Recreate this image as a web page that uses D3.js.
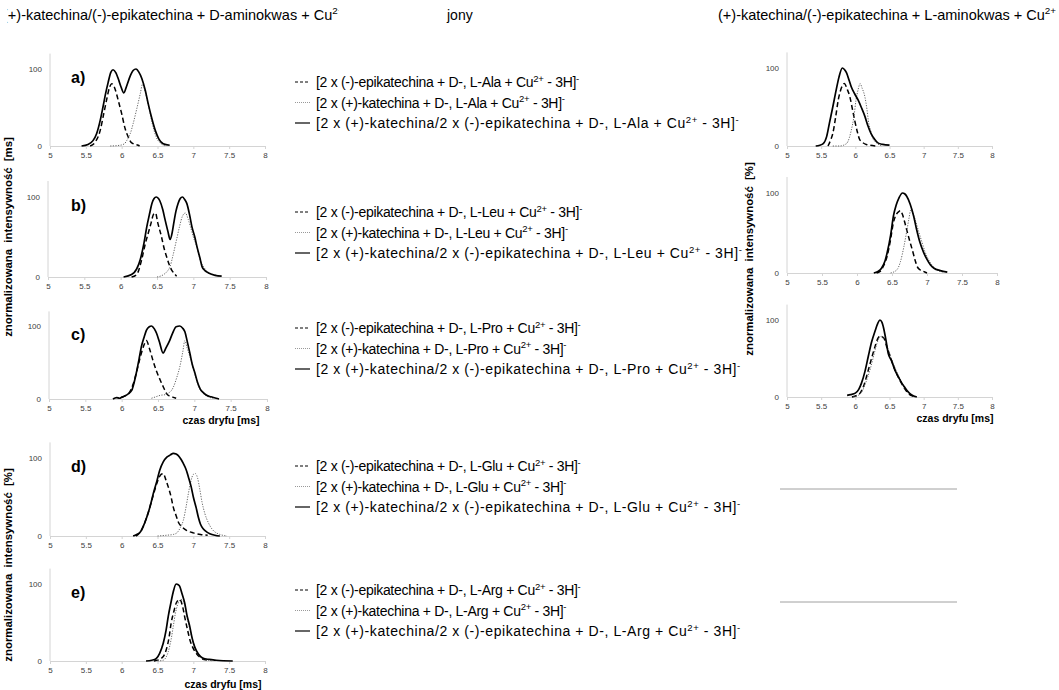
<!DOCTYPE html>
<html>
<head>
<meta charset="utf-8">
<script src="https://cdn.jsdelivr.net/npm/d3@7"></script>
<style>
  body { margin: 0; background: #fff; }
  text { font-family: "Liberation Sans", Arial, sans-serif; }
</style>
</head>
<body>
<svg width="1059" height="690"></svg>
<script>
  var xTicks = [5, 5.5, 6, 6.5, 7, 7.5, 8];
  var yTicks = [0, 100];
  var aminoAcids = ["Ala", "Leu", "Pro", "Glu", "Arg"];
  var panelLabels = ["a)", "b)", "c)", "d)", "e)"];

  // D-, L-aminokwas (left column): [czas dryfu, intensywność]
  var epiAla = [[5.56,0],[5.63,5],[5.7,20],[5.75,42],[5.79,60],[5.83,76],[5.86,81],[5.9,76],[5.95,60],[6.0,42],[6.05,22],[6.09,12],[6.13,5],[6.16,3],[6.23,1],[6.25,0]];
  var katAla = [[5.84,0],[5.98,1],[6.04,3],[6.07,7],[6.12,16],[6.16,29],[6.21,48],[6.26,68],[6.29,80],[6.33,70],[6.38,50],[6.43,28],[6.48,12],[6.55,3],[6.62,0]];
  var mixAla = [[5.44,0],[5.53,2],[5.6,7],[5.65,16],[5.7,33],[5.74,51],[5.78,70],[5.81,82],[5.85,96],[5.88,99],[5.92,95],[5.95,88],[5.99,77],[6.03,69],[6.07,78],[6.12,91],[6.16,98],[6.2,100],[6.24,96],[6.28,88],[6.33,72],[6.37,55],[6.42,36],[6.47,20],[6.52,9],[6.58,3],[6.67,1]];

  var epiLeu = [[6.15,0],[6.22,3],[6.29,22],[6.34,42],[6.38,55],[6.42,68],[6.45,78],[6.48,80],[6.51,68],[6.56,51],[6.6,35],[6.63,26],[6.67,15],[6.7,9],[6.74,4],[6.77,1]];
  var katLeu = [[6.5,0],[6.59,3],[6.64,7],[6.68,13],[6.72,27],[6.77,47],[6.81,63],[6.85,76],[6.89,80],[6.93,72],[6.96,63],[7.0,50],[7.05,37],[7.1,20],[7.14,13],[7.2,6],[7.28,3],[7.37,1]];
  var mixLeu = [[6.04,0],[6.15,3],[6.22,10],[6.27,22],[6.32,42],[6.36,63],[6.4,80],[6.43,92],[6.46,98],[6.49,100],[6.52,98],[6.54,95],[6.58,84],[6.61,72],[6.65,57],[6.68,47],[6.71,56],[6.73,67],[6.76,82],[6.79,92],[6.82,98],[6.85,100],[6.88,97],[6.91,92],[6.95,77],[6.98,63],[7.02,50],[7.05,38],[7.09,24],[7.12,13],[7.16,8],[7.21,5],[7.3,2],[7.39,1]];

  var epiPro = [[6.0,2],[6.06,5],[6.1,8],[6.16,21],[6.2,35],[6.25,55],[6.3,72],[6.34,80],[6.38,70],[6.43,53],[6.48,38],[6.53,26],[6.58,15],[6.62,7],[6.66,4],[6.69,3],[6.75,1]];
  var katPro = [[6.41,1],[6.47,3],[6.53,5],[6.6,6],[6.64,8],[6.68,11],[6.71,16],[6.76,30],[6.8,44],[6.84,64],[6.87,80],[6.9,70],[6.94,58],[6.98,44],[7.01,33],[7.05,20],[7.08,13],[7.13,7],[7.17,4],[7.26,1]];
  var mixPro = [[5.88,0],[5.93,2],[5.97,1],[6.01,3],[6.04,4],[6.09,7],[6.14,12],[6.17,22],[6.2,35],[6.24,55],[6.27,71],[6.31,85],[6.34,94],[6.38,99],[6.41,100],[6.45,96],[6.48,90],[6.52,78],[6.57,63],[6.61,70],[6.66,80],[6.7,90],[6.75,99],[6.8,100],[6.84,97],[6.87,92],[6.9,80],[6.94,62],[6.97,48],[7.01,35],[7.04,24],[7.08,14],[7.12,9],[7.17,5],[7.23,3],[7.3,1],[7.34,0]];

  var epiGlu = [[6.2,0],[6.26,5],[6.35,24],[6.44,52],[6.5,70],[6.55,79],[6.58,80],[6.62,71],[6.65,63],[6.69,50],[6.72,37],[6.76,26],[6.79,18],[6.85,11],[6.91,7],[7.0,4],[7.1,2],[7.2,1]];
  var katGlu = [[6.5,0],[6.63,1],[6.72,2],[6.77,4],[6.82,11],[6.86,20],[6.9,38],[6.93,54],[6.96,68],[7.0,79],[7.03,80],[7.06,74],[7.09,60],[7.12,44],[7.16,29],[7.21,17],[7.26,9],[7.32,4],[7.37,2],[7.47,0]];
  var mixGlu = [[6.16,0],[6.21,2],[6.26,5],[6.3,12],[6.35,24],[6.4,39],[6.44,54],[6.49,70],[6.53,84],[6.58,95],[6.63,101],[6.68,104],[6.72,106],[6.76,105],[6.79,103],[6.83,98],[6.86,93],[6.9,85],[6.93,76],[6.97,63],[7.0,50],[7.04,36],[7.07,24],[7.1,15],[7.14,9],[7.19,5],[7.23,3],[7.3,1],[7.37,0]];

  var epiArg = [[6.45,0],[6.55,3],[6.62,14],[6.66,30],[6.69,49],[6.73,65],[6.76,75],[6.81,80],[6.85,71],[6.88,57],[6.92,40],[6.96,25],[6.99,18],[7.04,10],[7.09,5],[7.15,2],[7.23,1]];
  var katArg = [[6.5,0],[6.58,1],[6.62,5],[6.65,12],[6.69,28],[6.72,45],[6.75,62],[6.78,73],[6.83,80],[6.88,73],[6.91,58],[6.95,42],[6.99,27],[7.02,18],[7.06,9],[7.11,4],[7.18,2],[7.27,0]];
  var mixArg = [[6.34,0],[6.42,1],[6.48,3],[6.53,10],[6.58,23],[6.62,40],[6.65,58],[6.69,77],[6.72,90],[6.76,100],[6.79,99],[6.81,97],[6.84,88],[6.88,75],[6.91,60],[6.95,45],[6.98,31],[7.02,18],[7.07,9],[7.13,4],[7.22,2],[7.32,1],[7.55,0]];

  // L-aminokwas (right column)
  var epiR1 = [[5.6,0],[5.64,8],[5.67,16],[5.71,36],[5.75,59],[5.79,73],[5.84,80],[5.88,73],[5.92,63],[5.96,46],[5.99,33],[6.03,18],[6.06,9],[6.1,5],[6.16,2],[6.31,0]];
  var katR1 = [[5.67,0],[5.77,0],[5.87,3],[5.91,10],[5.94,20],[5.98,38],[6.01,59],[6.04,72],[6.07,80],[6.1,74],[6.14,63],[6.17,47],[6.19,33],[6.23,18],[6.26,9],[6.31,4],[6.36,1],[6.4,0]];
  var mixR1 = [[5.42,0],[5.48,1],[5.53,3],[5.58,12],[5.62,29],[5.67,50],[5.72,72],[5.76,88],[5.81,100],[5.84,98],[5.87,94],[5.91,84],[5.94,76],[5.99,67],[6.04,59],[6.09,49],[6.14,38],[6.18,27],[6.23,16],[6.28,9],[6.33,4],[6.4,2],[6.5,1]];

  var epiR2 = [[6.28,0],[6.33,2],[6.38,9],[6.43,21],[6.48,42],[6.52,63],[6.56,73],[6.6,77],[6.62,78],[6.65,73],[6.68,64],[6.71,54],[6.75,41],[6.79,29],[6.83,16],[6.86,8],[6.9,4],[6.95,2],[7.0,0]];
  var katR2 = [[6.48,0],[6.57,4],[6.62,14],[6.67,33],[6.71,52],[6.74,67],[6.77,79],[6.8,74],[6.83,67],[6.88,52],[6.93,38],[6.97,27],[7.02,17],[7.08,9],[7.14,4],[7.24,1]];
  var mixR2 = [[6.24,0],[6.3,2],[6.35,6],[6.4,15],[6.43,25],[6.48,47],[6.52,71],[6.56,85],[6.6,94],[6.65,100],[6.68,99],[6.71,96],[6.76,86],[6.81,71],[6.85,55],[6.9,38],[6.95,26],[7.0,17],[7.05,10],[7.1,6],[7.19,3],[7.29,1]];

  var epiR3 = [[5.95,0],[6.02,2],[6.07,5],[6.12,14],[6.19,35],[6.24,51],[6.29,66],[6.33,76],[6.36,79],[6.42,76],[6.46,65],[6.51,53],[6.55,42],[6.6,31],[6.65,22],[6.7,14],[6.77,5],[6.85,1]];
  var katR3 = [[5.97,0],[6.04,2],[6.09,6],[6.15,18],[6.22,37],[6.27,54],[6.31,68],[6.34,75],[6.37,79],[6.43,74],[6.48,62],[6.53,49],[6.58,38],[6.63,28],[6.68,19],[6.72,12],[6.8,4],[6.87,0]];
  var mixR3 = [[5.88,2],[5.93,3],[6.0,5],[6.05,10],[6.09,18],[6.14,33],[6.19,53],[6.24,72],[6.29,86],[6.33,96],[6.36,100],[6.39,97],[6.41,91],[6.45,73],[6.48,57],[6.53,47],[6.58,35],[6.63,26],[6.68,18],[6.72,13],[6.75,9],[6.78,6],[6.82,3],[6.9,0]];

  var leftSeries = [
    [epiAla, katAla, mixAla],
    [epiLeu, katLeu, mixLeu],
    [epiPro, katPro, mixPro],
    [epiGlu, katGlu, mixGlu],
    [epiArg, katArg, mixArg]
  ];
  var rightSeries = [
    [epiR1, katR1, mixR1],
    [epiR2, katR2, mixR2],
    [epiR3, katR3, mixR3]
  ];

  // layout of the little charts
  var leftBoxes = [
    { x0: 50, x1: 265, y0: 146, y100: 69 },
    { x0: 48, x1: 266, y0: 277, y100: 197 },
    { x0: 49, x1: 267, y0: 399, y100: 326 },
    { x0: 50, x1: 265, y0: 536, y100: 458 },
    { x0: 50, x1: 265, y0: 661, y100: 584 }
  ];
  var rightBoxes = [
    { x0: 787, x1: 992, y0: 146, y100: 68 },
    { x0: 787, x1: 997, y0: 273, y100: 193 },
    { x0: 787, x1: 992, y0: 397, y100: 320 }
  ];
  var legendTops = [82, 212, 328, 466, 590];
  var legendSpacing = [-0.3, -0.3, 0.58];

  var lineStyles = [
    { stroke: "#000", width: 1.5, dash: "5,3" },
    { stroke: "#666", width: 1, dash: "1.2,1.4" },
    { stroke: "#000", width: 1.7, dash: null }
  ];

  var svg = d3.select("svg");

  function drawPanel(box, series) {
    var x = d3.scaleLinear().domain([5, 8]).range([box.x0, box.x1]);
    var y = d3.scaleLinear().domain([0, 100]).range([box.y0, box.y100]);
    var g = svg.append("g");

    g.append("g")
      .attr("transform", "translate(0," + box.y0 + ")")
      .call(d3.axisBottom(x).tickValues(xTicks).tickSize(3).tickSizeOuter(0).tickPadding(3).tickFormat(d3.format("")));
    var yAxis = g
      .append("g")
      .attr("transform", "translate(" + box.x0 + ",0)")
      .call(d3.axisLeft(y).tickValues(yTicks).tickSize(0).tickPadding(8));
    yAxis.select(".domain").attr("d", "M0," + y(0) + "V" + y(120));

    g.selectAll(".domain, .tick line").style("stroke", "#d4d4d4");
    g.selectAll(".tick text")
      .style("font-family", "Liberation Sans, Arial, sans-serif")
      .style("font-size", "8px")
      .style("fill", "#404040");

    var line = d3
      .line()
      .x(function (d) {
        return x(d[0]);
      })
      .y(function (d) {
        return y(d[1]);
      })
      .curve(d3.curveMonotoneX);

    series.forEach(function (s, i) {
      var st = lineStyles[i];
      g.append("path")
        .datum(s)
        .attr("d", line)
        .attr("fill", "none")
        .attr("stroke", st.stroke)
        .attr("stroke-width", st.width)
        .attr("stroke-dasharray", st.dash);
    });
    return g;
  }

  leftBoxes.forEach(function (box, i) {
    var g = drawPanel(box, leftSeries[i]);
    g.append("text")
      .attr("x", 71)
      .attr("y", box.y100 + 14)
      .style("font-size", "16px")
      .style("font-weight", "bold")
      .text(panelLabels[i]);
  });
  rightBoxes.forEach(function (box, i) {
    drawPanel(box, rightSeries[i]);
  });

  // text with a superscript in it
  function supText(t, main, sup, rest, fs) {
    var up = fs * 0.38;
    t.append("tspan").text(main);
    t.append("tspan").attr("dy", -up).style("font-size", fs * 0.68 + "px").text(sup);
    if (rest != null) t.append("tspan").attr("dy", up).text(rest);
  }

  legendTops.forEach(function (top, i) {
    var aa = aminoAcids[i];
    var names = [
      "[2 x (-)-epikatechina + D-, L-" + aa + " + Cu",
      "[2 x (+)-katechina + D-, L-" + aa + " + Cu",
      "[2 x (+)-katechina/2 x (-)-epikatechina + D-, L-" + aa + " + Cu"
    ];
    names.forEach(function (nm, j) {
      var cy = top + j * 20.5;
      var fs = 14;
      svg.append("line")
        .attr("x1", 295).attr("x2", 310)
        .attr("y1", cy).attr("y2", cy)
        .attr("stroke", j == 1 ? "#999" : "#000")
        .attr("stroke-width", j == 2 ? 1.2 : 1)
        .attr("stroke-dasharray", j == 0 ? "3,2" : j == 1 ? "1,1" : null);
      var t = svg.append("text")
        .attr("x", 316).attr("y", cy + 5)
        .style("font-size", fs + "px")
        .style("letter-spacing", legendSpacing[j] + "px");
      supText(t, nm, "2+", " - 3H]", fs);
      t.append("tspan").attr("dy", -fs * 0.38).style("font-size", fs * 0.68 + "px").text("-");
    });
  });

  // headers
  svg.append("clipPath").attr("id", "hclip")
    .append("rect").attr("x", 7.5).attr("y", 0).attr("width", 331).attr("height", 30);
  var h1 = svg.append("text").attr("x", 3).attr("y", 20).attr("clip-path", "url(#hclip)").style("font-size", "14.5px");
  supText(h1, "(+)-katechina/(-)-epikatechina + D-aminokwas + Cu", "2+", null, 14.5);
  svg.append("text").attr("x", 447).attr("y", 20).style("font-size", "14px").text("jony");
  var h2 = svg.append("text").attr("x", 718).attr("y", 20).style("font-size", "14.5px");
  supText(h2, "(+)-katechina/(-)-epikatechina + L-aminokwas + Cu", "2+", null, 14.5);

  // axis titles
  function yTitle(x, cy, txt) {
    svg.append("text")
      .attr("transform", "translate(" + x + "," + cy + ") rotate(-90)")
      .attr("text-anchor", "middle")
      .style("font-size", "11.4px")
      .style("font-weight", "bold")
      .style("word-spacing", "3px")
      .text(txt);
  }
  yTitle(12, 237, "znormalizowana intensywność [ms]");
  yTitle(12, 565, "znormalizowana intensywność [%]");
  yTitle(753, 259, "znormalizowana intensywność [%]");

  function xTitle(x, y) {
    svg.append("text")
      .attr("x", x).attr("y", y)
      .attr("text-anchor", "middle")
      .style("font-size", "10.5px")
      .style("font-weight", "bold")
      .text("czas dryfu [ms]");
  }
  xTitle(221, 424);
  xTitle(223, 688);
  xTitle(955, 422);

  // empty placeholders on the right
  [489, 602].forEach(function (yy) {
    svg.append("line")
      .attr("x1", 780).attr("x2", 957)
      .attr("y1", yy).attr("y2", yy)
      .attr("stroke", "#a0a0a0").attr("stroke-width", 1);
  });
</script>
</body>
</html>
